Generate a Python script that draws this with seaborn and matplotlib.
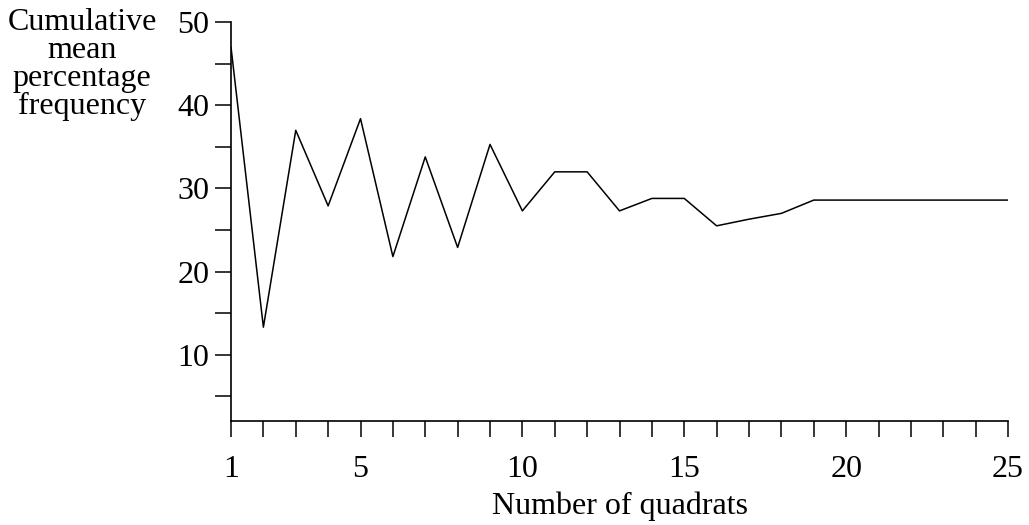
import numpy as np
import pandas as pd
import seaborn as sns
import matplotlib.pyplot as plt

# values
quadrats = list(range(1, 26))
cum_mean = [47.0, 13.3, 37.0, 27.9, 38.4, 21.8, 33.8, 22.9, 35.3, 27.3,
            32.0, 32.0, 27.3, 28.8, 28.8, 25.5, 26.3, 27.0, 28.6, 28.6,
            28.6, 28.6, 28.6, 28.6, 28.6]
x_labels = {1: "1", 5: "5", 10: "10", 15: "15", 20: "20", 25: "25"}
y_major = [10, 20, 30, 40, 50]
y_minor = [5, 15, 25, 35, 45]

df = pd.DataFrame({"quadrats": quadrats, "freq": cum_mean})

sns.set_style("ticks", {"axes.edgecolor": "black", "text.color": "black",
                        "xtick.color": "black", "ytick.color": "black"})
plt.rcParams["font.family"] = ["Liberation Serif", "DejaVu Serif"]

fig = plt.figure(figsize=(10.29, 5.25), dpi=100)
ax = fig.add_axes([0.2245, 0.198, 0.9796 - 0.2245, 0.9575 - 0.198])

sns.lineplot(data=df, x="quadrats", y="freq", color="black", linewidth=1.1, ax=ax)

ax.set_xlim(1, 25)
ax.set_ylim(2, 50)
sns.despine(ax=ax)
ax.spines["left"].set_linewidth(1.2)
ax.spines["bottom"].set_linewidth(1.2)

ax.set_xticks(quadrats)
ax.set_xticklabels([x_labels.get(q, "") for q in quadrats])
ax.set_yticks(y_major)
ax.set_yticks(y_minor, minor=True)
ax.tick_params(axis="x", length=11.5, width=1.1, pad=13, labelsize=23,
               direction="out", colors="black")
ax.tick_params(axis="y", which="both", length=11.5, width=1.1, pad=4, labelsize=23,
               direction="out", colors="black")

ax.set_xlabel("")
ax.set_ylabel("")
fig.text(0.08, 0.985, "Cumulative\nmean\npercentage\nfrequency", ha="center", va="top",
         multialignment="center", fontsize=23, linespacing=0.95, color="black")
fig.text(0.6025, 0.036, "Number of quadrats", ha="center", va="center",
         fontsize=23, color="black")

fig.savefig("out.png", dpi=100)
